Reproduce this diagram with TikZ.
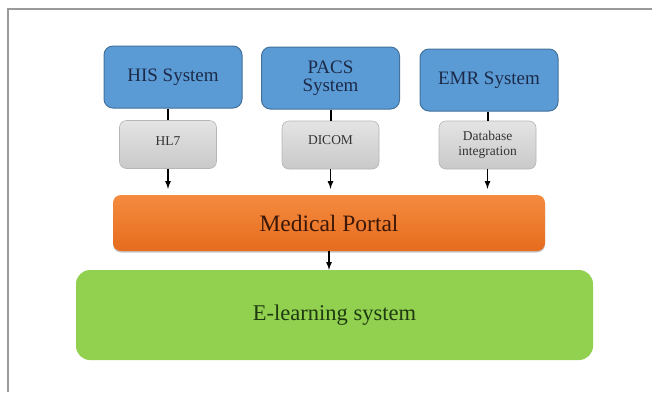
\documentclass[tikz,border=0pt]{standalone}
\usepackage{fontspec}
\setmainfont{Liberation Serif}
\usepackage{tikz}
\usetikzlibrary{arrows,calc,positioning,shadows}
\definecolor{sysblue}{HTML}{5B9BD5}
\definecolor{sysedge}{HTML}{41719C}
\definecolor{systext}{HTML}{1C2A48}
\definecolor{protlight}{HTML}{E4E4E4}
\definecolor{protdark}{HTML}{C9C9C9}
\definecolor{protedge}{HTML}{B5B5B5}
\definecolor{portlight}{HTML}{F58B3F}
\definecolor{portdark}{HTML}{E56C1E}
\definecolor{porttext}{HTML}{3B1808}
\definecolor{learngreen}{HTML}{92D050}
\definecolor{learntext}{HTML}{1E3A10}
\definecolor{framegray}{HTML}{9A9A9A}
\tikzset{%
	system/.style   = {draw=sysedge, line width=1pt, fill=sysblue, rectangle, rounded corners=9pt, minimum width=138pt, minimum height=62pt, text centered, align=center, text=systext, font=\fontsize{19}{20}\selectfont},
	protocol/.style = {draw=protedge, line width=0.6pt, top color=protlight, bottom color=protdark, rectangle, rounded corners=7pt, minimum width=97pt, minimum height=48pt, text centered, align=center, text=black!80, font=\fontsize{13.5}{15.5}\selectfont},
	portal/.style   = {rectangle, rounded corners=8pt, top color=portlight, bottom color=portdark, minimum width=432pt, minimum height=56pt, text centered, text=porttext, font=\fontsize{23.5}{25}\selectfont, drop shadow={shadow xshift=0pt, shadow yshift=-1.5pt, fill=black!45}},
	elearn/.style   = {rectangle, rounded corners=14pt, fill=learngreen, minimum width=517pt, minimum height=90pt, text centered, text=learntext, font=\fontsize{22.5}{24}\selectfont},
	link/.style     = {line width=2pt, black},
	arrow/.style    = {line width=1.6pt, -latex, black},
}
\begin{document}
\begin{tikzpicture}[x=1pt, y=-1pt]
	\useasboundingbox (0,0) rectangle (652,392);
	% frame
	\draw[framegray, line width=2pt] (8,392) -- (8,9) -- (652,9);
	% source systems
	\node[system] (his) at (173,77) {HIS System};
	\node[system] (pacs) at (330.5,78) {PACS\\[-2pt]System};
	\node[system] (emr) at (489,80) {EMR System};
	% interfaces
	\node[protocol] (hl7) at (168,144.5) {\raisebox{6pt}{HL7}};
	\node[protocol] (dicom) at (330.5,145) {\raisebox{10pt}{DICOM}};
	\node[protocol] (dbint) at (487.5,145) {Database\\integration};
	% portal and e-learning
	\node[portal] (portal) at (329,223) {Medical Portal};
	\node[elearn] (learn) at (334.5,315) {E-learning system};
	% connectors
	\draw[link] (his.south -| hl7.north) -- (hl7.north);
	\draw[link] (pacs.south -| dicom.north) -- (dicom.north);
	\draw[link] (emr.south -| dbint.north) -- (dbint.north);
	\draw[arrow, shorten >=6pt] (hl7.south) -- (hl7.south |- portal.north);
	\draw[arrow, shorten >=6pt] (dicom.south) -- (dicom.south |- portal.north);
	\draw[arrow, shorten >=6pt] (dbint.south) -- (dbint.south |- portal.north);
	\draw[arrow] (portal.south) -- (portal.south |- learn.north);
\end{tikzpicture}
\end{document}
